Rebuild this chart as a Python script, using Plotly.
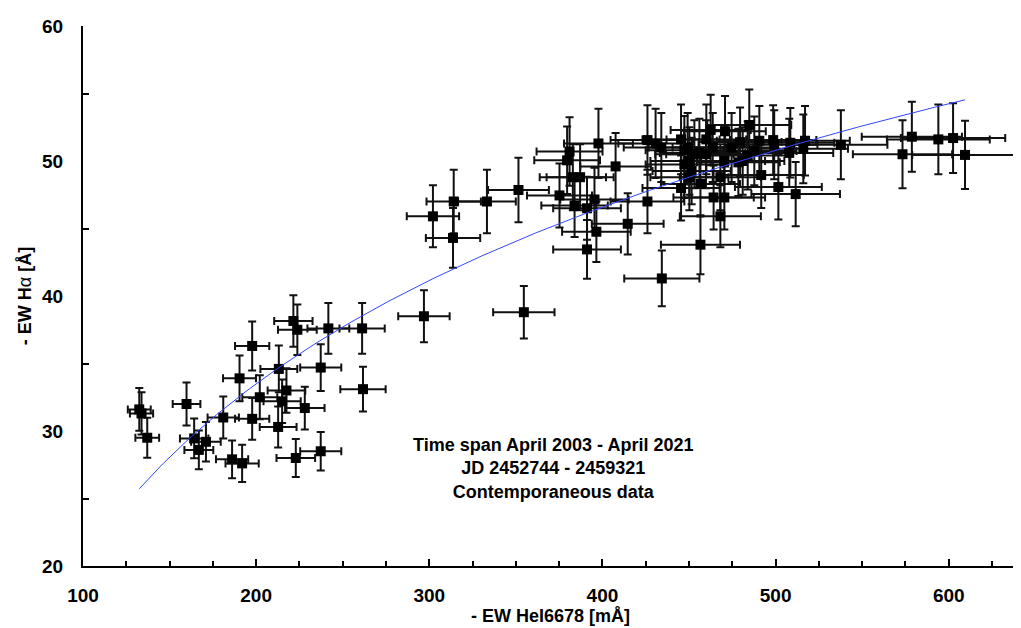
import numpy as np
import plotly.graph_objects as go

# - EW HeI 6678 [mA]  and  - EW Halpha [A]
ew_hei = [132.5, 133.8, 137.1, 159.8, 164.2, 166.9, 171.0, 181.0, 186.1, 191.9,
          190.4, 197.7, 197.7, 202.1, 213.1, 212.7, 215.0, 217.5, 221.5, 223.8,
          222.9, 228.1, 237.3, 237.3, 241.7, 261.2, 261.7,
          296.9, 354.6, 302.1, 314.1, 313.7, 333.3, 351.5,
          375.2, 381.0, 379.6, 382.9, 387.1, 383.9, 391.1, 395.4, 391.1, 396.5,
          397.7, 407.6, 414.6, 426.0, 426.0, 430.7, 434.0, 434.3, 445.4, 447.3,
          449.2, 450.2, 451.5, 456.6, 456.6, 460.0, 462.5, 464.2, 468.1, 470.4,
          470.8, 468.1, 479.5, 481.0, 484.8, 490.6, 491.7, 498.6, 501.6, 508.5,
          507.9, 511.6, 517.0, 516.0, 537.7, 573.3, 578.7, 594.0, 602.5, 609.4,
          445.4, 447.3, 453.1, 456.0, 459.8, 463.7, 470.4, 474.6, 478.5, 483.9,
          487.7, 499.2, 450.2]
ew_ha = [31.6, 31.3, 29.5, 32.0, 29.45, 28.6, 29.2, 31.0, 27.9, 27.6,
         33.9, 36.3, 30.9, 32.5, 34.6, 30.3, 32.2, 33.0, 38.15, 37.5,
         28.0, 31.7, 34.7, 28.5, 37.6, 37.6, 33.1,
         38.5, 38.8, 45.9, 47.0, 44.3, 47.0, 47.85,
         47.45, 50.7, 50.05, 48.8, 48.8, 46.7, 46.5, 47.15, 43.45, 44.76,
         51.3, 49.6, 45.35, 47.0, 51.55, 51.3, 51.0, 41.3, 48.0, 50.8,
         51.0, 50.0, 49.26, 48.3, 43.8, 51.6, 52.3, 47.3, 45.9, 47.3,
         52.2, 48.8, 51.4, 50.0, 52.67, 51.5, 48.96, 51.55, 48.07, 51.35,
         50.6, 47.55, 51.5, 50.9, 51.2, 50.5, 51.8, 51.6, 51.7, 50.45,
         51.6, 49.75, 50.5, 50.6, 50.5, 51.0, 50.0, 51.0, 49.9, 50.4,
         50.75, 51.2, 48.8]
ERR_PCT = 5  # relative error (%) on both quantities

annotation_lines = ["Time span April 2003 - April 2021",
                    "JD 2452744 - 2459321",
                    "Contemporaneous data"]

FONT = "Liberation Sans, Arial, sans-serif"

x = np.array(ew_hei)
y = np.array(ew_ha)

fig = go.Figure()
fig.add_trace(go.Scatter(
    x=x, y=y, mode="markers",
    marker=dict(symbol="square", size=10, color="black"),
    error_x=dict(type="percent", value=ERR_PCT, color="#111111", thickness=2, width=4),
    error_y=dict(type="percent", value=ERR_PCT, color="#111111", thickness=2, width=4),
    showlegend=False, hoverinfo="x+y"))

# logarithmic least-squares fit to the data
a, b = np.polyfit(np.log(x), y, 1)
xf = np.linspace(x.min(), x.max(), 300)
fig.add_trace(go.Scatter(
    x=xf, y=a * np.log(xf) + b, mode="lines",
    line=dict(color="#3347ff", width=1), showlegend=False, hoverinfo="skip"))

fig.add_annotation(
    x=371.4, y=27.2, xref="x", yref="y",
    text="<br>".join(annotation_lines), showarrow=False,
    xanchor="center", yanchor="middle", align="center",
    font=dict(family=FONT, size=18, color="black", weight="bold"))

fig.update_layout(
    width=1021, height=628,
    margin=dict(l=75, r=11, t=18, b=70),
    paper_bgcolor="white", plot_bgcolor="white",
    font=dict(family=FONT, color="black"),
    xaxis=dict(
        range=[100, 640], tick0=100, dtick=100, automargin=False,
        showgrid=False, zeroline=False,
        showline=True, linecolor="black", linewidth=2,
        ticks="inside", ticklen=7, tickwidth=1.5, tickcolor="black",
        minor=dict(dtick=25, tick0=100, ticks="inside", ticklen=5, tickwidth=1.5,
                   tickcolor="black", showgrid=False),
        tickfont=dict(family=FONT, size=19, weight="bold"),
        ticklabelstandoff=11,
        title=dict(text="- EW HeI6678 [mÅ]", standoff=0,
                   font=dict(family=FONT, size=18, weight="bold")),
    ),
    yaxis=dict(
        range=[20, 60], tick0=20, dtick=10, automargin=False,
        showgrid=False, zeroline=False,
        showline=True, linecolor="black", linewidth=2,
        ticks="",
        minor=dict(dtick=5, tick0=20, ticks="inside", ticklen=6, tickwidth=1.5,
                   tickcolor="black", showgrid=False),
        tickfont=dict(family=FONT, size=19, weight="bold"),
        ticklabelstandoff=14,
        title=dict(text="- EW H<span style='font-weight:normal'>α</span> [Å]", standoff=6,
                   font=dict(family=FONT, size=18, weight="bold")),
    ),
)

fig.write_html("out.html")
